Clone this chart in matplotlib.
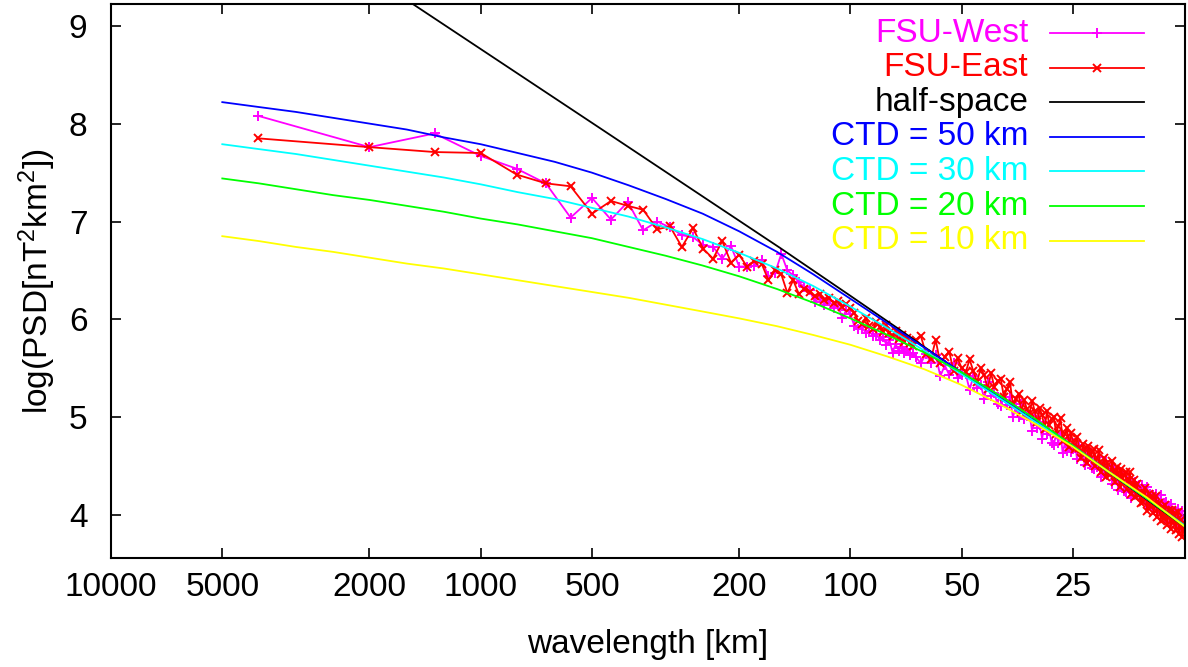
import numpy as np
import matplotlib
matplotlib.use("Agg")
import matplotlib.pyplot as plt
from matplotlib.lines import Line2D

plt.rcParams['font.family'] = ['Liberation Sans', 'DejaVu Sans']
plt.rcParams['mathtext.default'] = 'regular'

# ---- data ----
# spectral index n of the 4000 km profile (wavelength = 4000 / n)
n_idx = np.r_[1:61, 62:321:2]

fsu_west = [
    8.08, 7.76, 7.90, 7.67, 7.54, 7.39, 7.04, 7.24, 7.02, 7.20,
    6.91, 7.00, 6.94, 6.86, 6.84, 6.76, 6.74, 6.62, 6.75, 6.54,
    6.54, 6.55, 6.61, 6.44, 6.47, 6.67, 6.50, 6.45, 6.38, 6.33,
    6.30, 6.18, 6.22, 6.15, 6.19, 6.12, 6.15, 6.01, 6.10, 6.05,
    5.93, 5.90, 5.92, 5.86, 5.88, 5.83, 5.85, 5.79, 5.82, 5.74,
    5.79, 5.66, 5.75, 5.68, 5.72, 5.66, 5.70, 5.64, 5.66, 5.62,
    # n = 62..320 step 2
    5.55, 5.65, 5.55, 5.64, 5.42, 5.53, 5.43, 5.55, 5.40, 5.43,
    5.44, 5.28, 5.42, 5.30, 5.33, 5.19, 5.36, 5.22, 5.25, 5.13,
    5.11, 5.21, 5.12, 5.21, 5.00, 5.10, 5.00, 5.13, 4.98, 5.01,
    5.02, 4.86, 5.01, 4.89, 4.92, 4.78, 4.95, 4.83, 4.86, 4.74,
    4.72, 4.83, 4.74, 4.84, 4.63, 4.74, 4.65, 4.78, 4.64, 4.67,
    4.73, 4.57, 4.72, 4.60, 4.64, 4.51, 4.68, 4.56, 4.59, 4.48,
    4.47, 4.58, 4.49, 4.59, 4.39, 4.51, 4.42, 4.55, 4.41, 4.45,
    4.47, 4.32, 4.47, 4.36, 4.40, 4.26, 4.44, 4.32, 4.36, 4.25,
    4.24, 4.35, 4.27, 4.37, 4.17, 4.29, 4.20, 4.34, 4.20, 4.29,
    4.31, 4.16, 4.31, 4.20, 4.24, 4.11, 4.29, 4.17, 4.21, 4.10,
    4.09, 4.20, 4.12, 4.22, 4.03, 4.15, 4.06, 4.20, 4.06, 4.10,
    4.12, 3.97, 4.13, 4.02, 4.06, 3.93, 4.11, 4.00, 4.04, 3.93,
    3.92, 4.03, 3.96, 4.06, 3.86, 3.98, 3.89, 4.04, 3.90, 3.94,
]

fsu_east = [
    7.85, 7.76, 7.71, 7.70, 7.48, 7.39, 7.36, 7.08, 7.21, 7.16,
    7.12, 6.92, 6.95, 6.74, 6.93, 6.72, 6.62, 6.80, 6.58, 6.66,
    6.54, 6.60, 6.57, 6.40, 6.50, 6.46, 6.27, 6.40, 6.26, 6.31,
    6.28, 6.24, 6.26, 6.20, 6.22, 6.17, 6.19, 6.13, 6.16, 6.12,
    6.06, 5.98, 5.95, 6.01, 5.93, 5.90, 5.97, 5.92, 5.87, 5.94,
    5.86, 5.83, 5.88, 5.80, 5.84, 5.77, 5.81, 5.76, 5.73, 5.79,
    # n = 62..320 step 2
    5.83, 5.65, 5.59, 5.79, 5.55, 5.62, 5.67, 5.47, 5.60, 5.50,
    5.46, 5.59, 5.47, 5.36, 5.50, 5.43, 5.29, 5.45, 5.31, 5.37,
    5.39, 5.21, 5.29, 5.36, 5.13, 5.19, 5.24, 5.05, 5.18, 5.08,
    5.04, 5.17, 5.06, 4.95, 5.09, 5.02, 4.88, 5.06, 4.92, 4.98,
    5.00, 4.83, 4.91, 4.99, 4.76, 4.83, 4.89, 4.70, 4.84, 4.74,
    4.67, 4.80, 4.69, 4.58, 4.73, 4.67, 4.53, 4.71, 4.57, 4.64,
    4.67, 4.50, 4.58, 4.66, 4.44, 4.52, 4.58, 4.39, 4.53, 4.44,
    4.41, 4.55, 4.44, 4.34, 4.49, 4.42, 4.29, 4.47, 4.34, 4.41,
    4.44, 4.27, 4.36, 4.44, 4.22, 4.30, 4.36, 4.18, 4.32, 4.23,
    4.20, 4.12, 4.23, 4.13, 4.28, 4.17, 4.04, 4.22, 4.09, 4.16,
    4.19, 4.02, 4.11, 4.19, 3.98, 4.06, 4.12, 3.94, 4.08, 3.99,
    3.96, 4.10, 4.00, 3.90, 4.05, 3.99, 3.86, 4.05, 3.92, 3.99,
    4.02, 3.85, 3.95, 4.03, 3.81, 3.89, 3.95, 3.78, 3.92, 3.83,
]

# model curves (wavelength in km -> log PSD)
hs_wl = [1700, 474, 155, 100, 73.3, 50, 25, 12.45]
hs_val = [9.34, 7.95, 6.73, 6.24, 5.89, 5.45, 4.70, 3.88]

model_wl = [5000, 3981, 3162, 2512, 1995, 1585, 1259, 1000, 794, 631, 501,
            398, 316, 251, 200, 158, 126, 100, 79.4, 63.1, 50.1, 39.8, 31.6,
            25.1, 20, 15.8, 12.45]
ctd50 = [8.22, 8.17, 8.12, 8.06, 8.00, 7.94, 7.86, 7.79, 7.70, 7.61, 7.50,
         7.37, 7.23, 7.08, 6.90, 6.69, 6.46, 6.21, 5.96, 5.71, 5.46, 5.21, 4.96,
         4.71, 4.44, 4.17, 3.89]
ctd30 = [7.79, 7.74, 7.69, 7.63, 7.57, 7.51, 7.45, 7.38, 7.30, 7.23, 7.14,
         7.05, 6.94, 6.82, 6.68, 6.52, 6.34, 6.13, 5.91, 5.68, 5.44, 5.20, 4.95,
         4.71, 4.44, 4.17, 3.89]
ctd20 = [7.44, 7.39, 7.33, 7.27, 7.22, 7.16, 7.10, 7.03, 6.97, 6.90, 6.83,
         6.74, 6.65, 6.55, 6.44, 6.31, 6.17, 6.01, 5.84, 5.66, 5.46, 5.23, 4.98,
         4.71, 4.44, 4.17, 3.88]
ctd10 = [6.85, 6.80, 6.74, 6.69, 6.63, 6.57, 6.52, 6.46, 6.40, 6.34, 6.28,
         6.22, 6.15, 6.08, 6.01, 5.93, 5.84, 5.74, 5.62, 5.49, 5.33, 5.14, 4.93,
         4.70, 4.44, 4.18, 3.88]

x_ticks = [10000, 5000, 2000, 1000, 500, 200, 100, 50, 25]
y_ticks = [4, 5, 6, 7, 8, 9]

wavelength = 4000.0 / n_idx
FS = 24

# ---- figure ----
fig = plt.figure(figsize=(11.88, 6.67), dpi=100)
ax = fig.add_axes([111 / 1188, 1 - 557.7 / 667, 1074 / 1188, 553.7 / 667])

ax.plot(wavelength, fsu_west, color='#ff00ff', lw=1.3, marker='+', ms=6.5, mew=1.4)
ax.plot(wavelength, fsu_east, color='#ff0000', lw=1.3, marker='x', ms=5.5, mew=1.4)
ax.plot(hs_wl, hs_val, color='black', lw=1.3)
ax.plot(model_wl, ctd50, color='#0000ff', lw=1.3)
ax.plot(model_wl, ctd30, color='#00ffff', lw=1.3)
ax.plot(model_wl, ctd20, color='#00ff00', lw=1.3)
ax.plot(model_wl, ctd10, color='#ffff00', lw=1.3)

ax.set_xscale('log')
ax.set_xlim(10000, 12.45)
ax.set_ylim(3.564, 9.223)
ax.set_xticks(x_ticks)
ax.set_xticklabels([str(t) for t in x_ticks])
ax.xaxis.set_minor_locator(matplotlib.ticker.NullLocator())
ax.set_yticks(y_ticks)
ax.tick_params(direction='in', length=7, width=1.2, top=True, right=True, labelsize=FS)
ax.tick_params(axis='x', pad=10)
ax.tick_params(axis='y', pad=17)
for sp in ax.spines.values():
    sp.set_linewidth(1.5)

ax.set_xlabel('wavelength [km]', fontsize=FS, labelpad=19)
ax.set_ylabel('log(PSD[nT$^2$km$^2$])', fontsize=FS, labelpad=8)

# legend drawn gnuplot-style: right aligned label, sample line to the right
entries = [
    ('FSU-West', '#ff00ff', '+', 6.5),
    ('FSU-East', '#ff0000', 'x', 5.5),
    ('half-space', 'black', None, 0),
    ('CTD = 50 km', '#0000ff', None, 0),
    ('CTD = 30 km', '#00ffff', None, 0),
    ('CTD = 20 km', '#00ff00', None, 0),
    ('CTD = 10 km', '#ffff00', None, 0),
]
y0 = 1 - (33 - 4) / 553.7
dy = 34.6 / 553.7
for i, (label, col, mk, ms) in enumerate(entries):
    yy = y0 - i * dy
    ax.text(0.854, yy, label, color=col, fontsize=FS, ha='right', va='center',
            transform=ax.transAxes)
    ax.add_line(Line2D([0.874, 0.962], [yy, yy], color=col, lw=1.3,
                       transform=ax.transAxes))
    if mk:
        ax.add_line(Line2D([0.918], [yy], color=col, marker=mk, ms=ms, mew=1.4,
                           transform=ax.transAxes))

fig.savefig('out.png', dpi=100)
